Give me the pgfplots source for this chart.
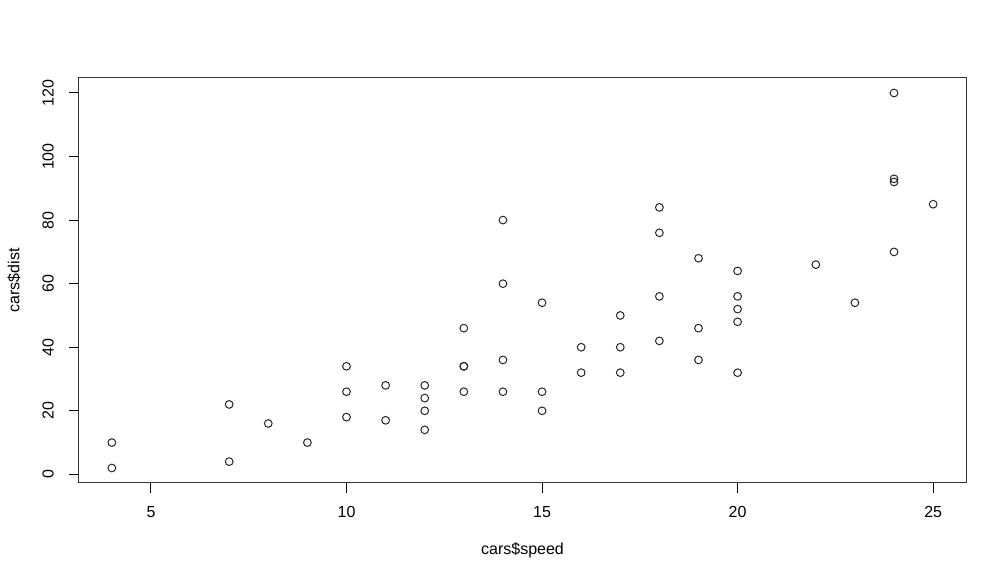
\documentclass[border=0pt]{standalone}
\usepackage{fontspec}
\setmainfont{Liberation Sans}
\usepackage{pgfplots}
\pgfplotsset{compat=1.18}
\begin{document}
\begin{tikzpicture}
\path[use as bounding box] (-59.25pt,-73.5pt) rectangle (696pt,362.25pt);
\begin{axis}[
  at={(0pt,0pt)}, anchor=south west,
  scale only axis,
  width=665.25pt, height=303.75pt,
  xmin=3.16, xmax=25.84, ymin=-2.72, ymax=124.72,
  xtick={5,10,15,20,25}, ytick={0,20,40,60,80,100,120},
  xtick pos=bottom, ytick pos=left,
  tick align=outside, major tick length=7.5pt,
  tick style={black, line width=0.75pt},
  axis line style={black!80, line width=0.75pt},
  /pgf/number format/assume math mode=true,
  ticklabel style={font=\fontsize{12}{14}\selectfont},
  xticklabel style={anchor=north, inner sep=0pt, yshift=-9.75pt},
  yticklabel style={rotate=90, anchor=south, inner sep=0pt, yshift=11.25pt},
  xlabel={cars\$speed}, ylabel={cars\$dist},
  label style={font=\fontsize{12}{14}\selectfont},
  xlabel style={at={(axis description cs:0.5,-0.1654)}, anchor=center},
  ylabel style={at={(axis description cs:-0.0733,0.5)}, anchor=center, rotate=0},
]
\addplot[only marks, mark=o, mark size=2.9pt, mark options={line width=0.75pt, black!85}]
coordinates {
(4,2) (4,10) (7,4) (7,22) (8,16) (9,10) (10,18) (10,26) (10,34) (11,17)
(11,28) (12,14) (12,20) (12,24) (12,28) (13,26) (13,34) (13,34) (13,46) (14,26)
(14,36) (14,60) (14,80) (15,20) (15,26) (15,54) (16,32) (16,40) (17,32) (17,40)
(17,50) (18,42) (18,56) (18,76) (18,84) (19,36) (19,46) (19,68) (20,32) (20,48)
(20,52) (20,56) (20,64) (22,66) (23,54) (24,70) (24,92) (24,93) (24,120) (25,85)
};
\end{axis}
\end{tikzpicture}
\end{document}
